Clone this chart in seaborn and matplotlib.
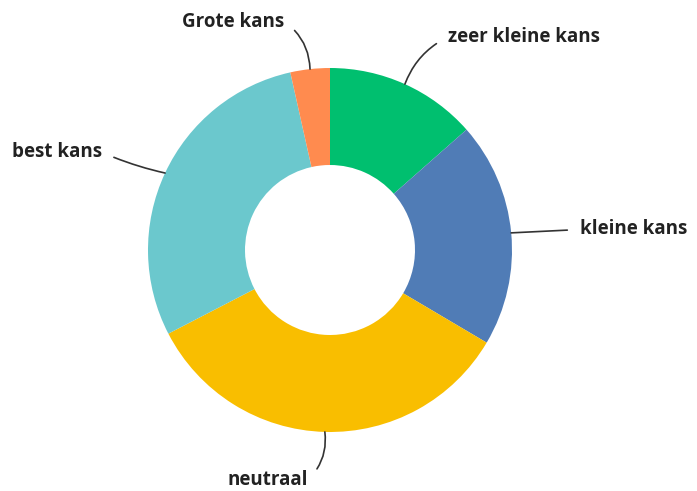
import numpy as np
import matplotlib
matplotlib.use("Agg")
import matplotlib.pyplot as plt
import seaborn as sns

categories = ["zeer kleine kans", "kleine kans", "neutraal", "best kans", "Grote kans"]
values = [13.5, 20.0, 33.9, 29.1, 3.5]
colors = ["#00BF6F", "#507CB6", "#F9BE00", "#6BC8CD", "#FF8B4F"]

# label layout (radius of leader end, angular tweak in degrees, curvature)
label_r = [1.31, 1.32, 1.265, 1.31, 1.27]
label_dang = [-2.4, -0.5, -1.2, 0.8, 2.4]
label_rad = [0.2, 0.0, -0.25, -0.05, 0.25]

sns.set_theme(style="white")
plt.rcParams["font.family"] = ["Open Sans", "DejaVu Sans"]

W, H = 697, 491
fig = plt.figure(figsize=(W / 100, H / 100), dpi=100)
ax = fig.add_axes([0, 0, 1, 1])
cx, cy, R = 330, 250, 182

pal = sns.color_palette(colors)
wedges, _ = ax.pie(values, colors=pal, startangle=90, counterclock=False,
                   radius=1.0, wedgeprops=dict(width=0.533, linewidth=0),
                   frame=False)
ax.set_xlim(-cx / R, (W - cx) / R)
ax.set_ylim(-(H - cy) / R, cy / R)
ax.set_aspect("auto")
ax.axis("off")

for w, lab, r2, da, rad in zip(wedges, categories, label_r, label_dang, label_rad):
    ang = np.deg2rad((w.theta1 + w.theta2) / 2)
    x0, y0 = np.cos(ang), np.sin(ang)
    a2 = ang + np.deg2rad(da)
    x1, y1 = r2 * np.cos(a2), r2 * np.sin(a2)
    right = x0 >= 0
    gap = 0.06
    tx = x1 + (gap if right else -gap)
    ax.annotate(lab, xy=(x0, y0), xytext=(tx, y1),
                ha="left" if right else "right", va="center",
                fontsize=13.5, fontweight="bold", color="#222222",
                arrowprops=dict(arrowstyle="-", color="#333333", lw=1.2,
                                shrinkA=7, shrinkB=0,
                                relpos=(0, 0.5) if right else (1, 0.5),
                                connectionstyle=f"arc3,rad={rad if right else -rad}"))

fig.savefig("out.png", dpi=100, facecolor="white")
